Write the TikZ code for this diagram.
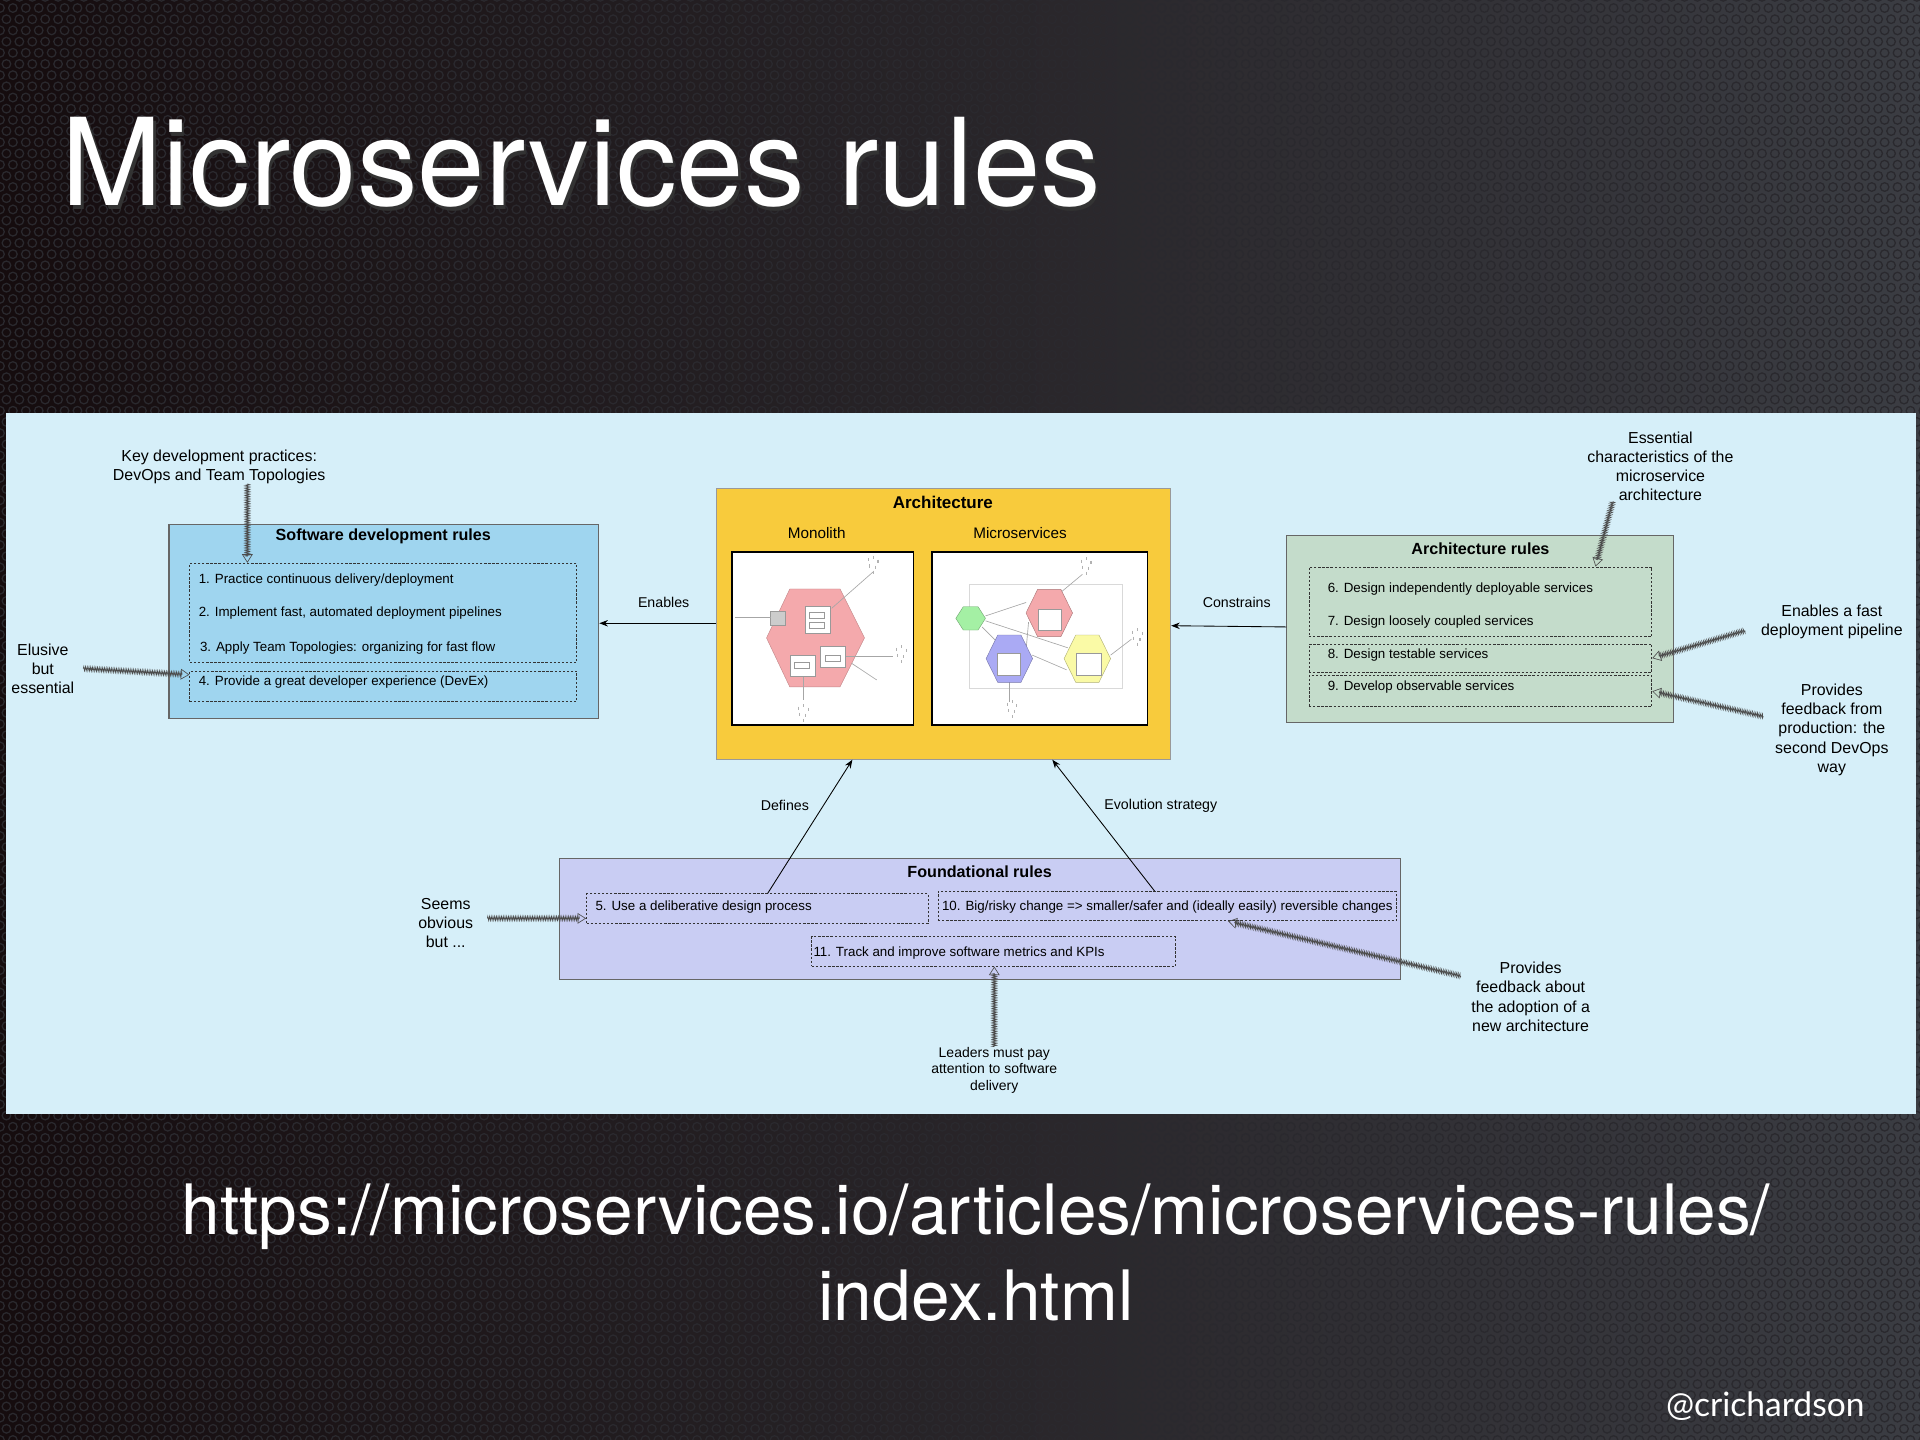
\documentclass[tikz,border=0pt]{standalone}
\usepackage{fontspec}
\setmainfont{Liberation Sans}
\newfontfamily\titlefont{TeX Gyre Heros}
\newfontfamily\handlefont{Lato}
\usepackage{tikz}
\usetikzlibrary{arrows.meta, positioning, fit, calc, decorations.pathmorphing, patterns.meta}

\definecolor{slatedark}{HTML}{150C0E}
\definecolor{slategrey}{HTML}{3B3D43}
\definecolor{holegrey}{HTML}{2A292E}
\definecolor{panelblue}{HTML}{D6EFF9}
\definecolor{swblue}{HTML}{9FD5EF}
\definecolor{archyellow}{HTML}{F8CB3C}
\definecolor{rulegreen}{HTML}{C4DCCB}
\definecolor{foundlilac}{HTML}{C9CDF3}
\definecolor{hexpink}{HTML}{F4A9AC}
\definecolor{hexgreen}{HTML}{A4F0A4}
\definecolor{hexblue}{HTML}{AAAAF4}
\definecolor{hexyellow}{HTML}{FAFAA6}

\tikzdeclarepattern{
  name=holes, type=uncolored,
  bottom left={(-3pt,-3pt)}, top right={(9pt,13.4pt)},
  tile size={(6pt,10.4pt)},
  code={\draw[line width=0.6pt] (0,0) circle (2pt) (3pt,5.2pt) circle (2pt);}
}

\tikzstyle{rulebox} = [rectangle, draw=black!60, line width=0.5pt, inner sep=0pt]
\tikzstyle{swbox} = [rulebox, fill=swblue]
\tikzstyle{archbox} = [rulebox, fill=archyellow, draw=black!40]
\tikzstyle{greenbox} = [rulebox, fill=rulegreen]
\tikzstyle{lilacbox} = [rulebox, fill=foundlilac]
\tikzstyle{thumb} = [rectangle, draw=black, line width=0.8pt, fill=white, inner sep=0pt]
\tikzstyle{itembox} = [rectangle, draw=black!80, dash pattern=on 1.1pt off 0.8pt, line width=0.4pt, inner sep=0pt]
\tikzstyle{itemtext} = [anchor=west, inner sep=0pt, font=\fontsize{6.2}{7.4}\selectfont]
\tikzstyle{boxtitle} = [inner sep=0pt, font=\fontsize{7.5}{9}\selectfont\bfseries]
\tikzstyle{subtitle} = [inner sep=0pt, font=\fontsize{7.1}{8.5}\selectfont]
\tikzstyle{note} = [align=center, inner sep=0pt, font=\fontsize{7.4}{8.9}\selectfont]
\tikzstyle{arrow} = [-{Stealth[length=4pt, width=3pt]}, line width=0.4pt, draw=black]
\tikzstyle{arrowlabel} = [inner sep=0pt, font=\fontsize{6.6}{8}\selectfont]
\tikzstyle{hatch} = [draw=black!70, line width=0.3pt, decorate,
  decoration={zigzag, amplitude=1pt, segment length=0.8pt, post length=3pt},
  -{Triangle[open, length=4pt, width=5pt]}]
\tikzstyle{thin} = [draw=black!35, line width=0.3pt]

\begin{document}
\begin{tikzpicture}[x=0.02cm, y=-0.02cm]
    \useasboundingbox (0,0) rectangle (1568,1176);

    % Slide background
    \shade[left color=slatedark, right color=slategrey] (0,0) rectangle (1568,1176);
    \fill[pattern=holes, pattern color=holegrey] (0,0) rectangle (1568,1176);
    \node[anchor=base west, inner sep=0pt, text=black!80, font=\titlefont\fontsize{56.3}{60}\selectfont] at (52,171) {Microservices rules};
    \node[anchor=base west, inner sep=0pt, text=white, font=\titlefont\fontsize{56.3}{60}\selectfont] (title) at (50,168) {Microservices rules};
    \fill[panelblue] (5,337) rectangle (1565,910);

    % Software development rules
    \node[swbox, fit={(138,428) (489,587)}] (swrules) {};
    \node[boxtitle] at (313,438) {Software development rules};
    \node[itembox, fit={(155,460) (471,541)}] (sw1) {};
    \node[itembox, fit={(155,548) (471,573)}] (sw2) {};
    \node[itemtext] at (162,474) {1. Practice continuous delivery/deployment};
    \node[itemtext] at (162,501) {2. Implement fast, automated deployment pipelines};
    \node[itemtext] at (163,529) {3. Apply Team Topologies: organizing for fast flow};
    \node[itemtext] at (162,557) {4. Provide a great developer experience (DevEx)};

    % Architecture
    \node[archbox, fit={(585,399) (956,620)}] (arch) {};
    \node[boxtitle, font=\fontsize{7.9}{9}\selectfont\bfseries] at (770,410) {Architecture};
    \node[subtitle] at (667,435) {Monolith};
    \node[subtitle] at (833,435) {Microservices};
    \node[thumb, fit={(598,451) (746,592)}] (mono) {};
    \node[thumb, fit={(761,451) (937,592)}] (micro) {};

    % monolith sketch
    \filldraw[fill=hexpink, draw=hexpink!80!black, line width=0.2pt]
      (626,521) -- (645,481) -- (686,481) -- (706,521) -- (686,561) -- (645,561) -- cycle;
    \filldraw[fill=black!20, draw=black!40, line width=0.2pt] (629.4,499.5) rectangle (641.1,510.4);
    \draw[thin] (600.2,504.4) -- (629.4,504.4);
    \draw[thin] (679.2,496.8) -- (713.2,466.9);
    \draw[thin] (690.6,536.3) -- (729.5,536.3);
    \draw[thin] (695.5,541.7) -- (716,555.3);
    \draw[thin] (656,552.6) -- (656,571.7);
    \foreach \ax/\ay/\bx/\by in {657.4/494.9/677.8/516.9, 670.2/528.1/690.6/545.2, 645.2/534.9/665.6/552.1}
      \filldraw[fill=white, draw=black!40, line width=0.2pt] (\ax,\ay) rectangle (\bx,\by);
    \foreach \ax/\ay in {661/500, 661/508, 674/535, 649/541}
      \draw[black!40, line width=0.2pt] (\ax,\ay) rectangle ++(12,5);

    % microservices sketch
    \draw[black!15, line width=0.3pt] (791.6,477.2) rectangle (916.3,561.9);
    \draw[thin] (804.8,503) -- (838,492);
    \draw[thin] (802,512) -- (814,524);
    \draw[thin] (804.8,507) -- (872,529);
    \draw[thin] (843,535) -- (871,547);
    \draw[thin] (840,508) -- (838,530);
    \draw[thin] (866,484) -- (884,469);
    \draw[thin] (907,535) -- (924,522);
    \draw[thin] (824.3,557.2) -- (824.3,573);
    \foreach \cx/\cy/\hw/\hh/\col in {792.7/505/12.1/9.5/hexgreen, 856.9/500.6/19/19.3/hexpink,
        824.3/537.9/19/19.3/hexblue, 888/537.9/19/19.3/hexyellow}
      \filldraw[fill=\col, draw=\col!70!black, line width=0.2pt]
        (\cx-\hw,\cy) -- (\cx-\hw/2,\cy-\hh) -- (\cx+\hw/2,\cy-\hh) -- (\cx+\hw,\cy)
        -- (\cx+\hw/2,\cy+\hh) -- (\cx-\hw/2,\cy+\hh) -- cycle;
    \foreach \ax/\ay/\bx/\by in {848/497.6/867/514.5, 814.5/533.5/833/551.3, 878.7/533.5/899.7/551.3}
      \filldraw[fill=white, draw=black!40, line width=0.2pt] (\ax,\ay) rectangle (\bx,\by);

    % little teams
    \foreach \tx/\ty in {713/460, 736/533, 656/581, 887/461, 929/519, 826.5/578}
      \foreach \dx/\dy in {-4/-4, 0/-6, 4/-3, -3/1, 2/2, 0/6}
        \draw[black!30, line width=0.5pt] (\tx+\dx,\ty+\dy) -- ++(0,2.5);

    % Architecture rules
    \node[greenbox, fit={(1051,437) (1367,590)}] (archrules) {};
    \node[boxtitle] at (1209,448) {Architecture rules};
    \node[itembox, fit={(1069,463) (1349,520)}] (a1) {};
    \node[itembox, fit={(1069,526) (1349,549)}] (a3) {};
    \node[itembox, fit={(1069,552) (1349,577)}] (a4) {};
    \node[itemtext] at (1084,481) {6. Design independently deployable services};
    \node[itemtext] at (1084,508) {7. Design loosely coupled services};
    \node[itemtext] at (1084,535) {8. Design testable services};
    \node[itemtext] at (1084,561) {9. Develop observable services};

    % Foundational rules
    \node[lilacbox, fit={(457,701) (1144,800)}] (found) {};
    \node[boxtitle] at (800,712) {Foundational rules};
    \node[itembox, fit={(479,730) (758,754)}] (f5) {};
    \node[itembox, fit={(766,728) (1140,752)}] (f10) {};
    \node[itembox, fit={(663,765) (960,789)}] (f11) {};
    \node[itemtext] at (486,741) {5. Use a deliberative design process};
    \node[itemtext] at (769,741) {10. Big/risky change => smaller/safer and (ideally easily) reversible changes};
    \node[itemtext] at (664,778) {11. Track and improve software metrics and KPIs};

    % Notes
    \node[note] (keydev) at (179,381) {Key development practices:\\DevOps and Team Topologies};
    \node[note] (elusive) at (35,546) {Elusive\\but\\essential};
    \node[note] (essential) at (1356,381) {Essential\\characteristics of the\\microservice\\architecture};
    \node[note] (fastnote) at (1496,508) {Enables a fast\\deployment pipeline};
    \node[note] (prodnote) at (1496,596) {Provides\\feedback from\\production: the\\second DevOps\\way};
    \node[note] (seems) at (364,754) {Seems\\obvious\\but ...};
    \node[note] (adoption) at (1250,814) {Provides\\feedback about\\the adoption of a\\new architecture};
    \node[note, font=\fontsize{6.5}{7.7}\selectfont] (leaders) at (812,874) {Leaders must pay\\attention to software\\delivery};
    \coordinate (fasttail) at (1425,515);
    \coordinate (prodtail) at (1440,585);
    \coordinate (adopttail) at (1193,797);
    \coordinate (seemstail) at (398,750);

    % Arrows
    \draw[arrow] (arch.west |- 0,509) -- (swrules.east |- 0,509);
    \node[arrowlabel] at (542,492) {Enables};
    \draw[arrow] (archrules.west |- 0,512) -- (arch.east |- 0,511);
    \node[arrowlabel] at (1010,492) {Constrains};
    \draw[arrow] ($(f5.north west)!0.53!(f5.north east)$) -- ($(arch.south west)!0.3!(arch.south east)$);
    \node[arrowlabel] at (641,658) {Defines};
    \draw[arrow] ($(f10.north west)!0.473!(f10.north east)$) -- ($(arch.south west)!0.739!(arch.south east)$);
    \node[arrowlabel] at (948,658) {Evolution strategy};

    \draw[hatch] (keydev.south -| 202,0) -- (sw1.north -| 202,0);
    \draw[hatch] (elusive.east -| 68,0) -- (sw2.west |- 0,551);
    \draw[hatch] (essential.south -| 1317,0) -- (a1.north -| 1303,0);
    \draw[hatch] (fasttail) -- (a3.east);
    \draw[hatch] (prodtail) -- (a4.east);
    \draw[hatch] (seemstail) -- (f5.west |- seemstail);
    \draw[hatch] (adopttail) -- (f10.south -| 1003,0);
    \draw[hatch] (leaders.north) -- (f11.south -| leaders.north);

    % Link and handle
    \node[anchor=base, inner sep=0pt, text=white, font=\titlefont\fontsize{32.3}{38}\selectfont] (urlA) at (797,1008) {https://microservices.io/articles/microservices-rules/};
    \node[anchor=base, inner sep=0pt, text=white, font=\titlefont\fontsize{32.3}{38}\selectfont] (urlB) at (797,1078) {index.html};
    \node[anchor=base east, inner sep=0pt, text=white, font=\handlefont\fontsize{15.6}{18}\selectfont] (handle) at (1523,1157) {@crichardson};
\end{tikzpicture}
\end{document}
